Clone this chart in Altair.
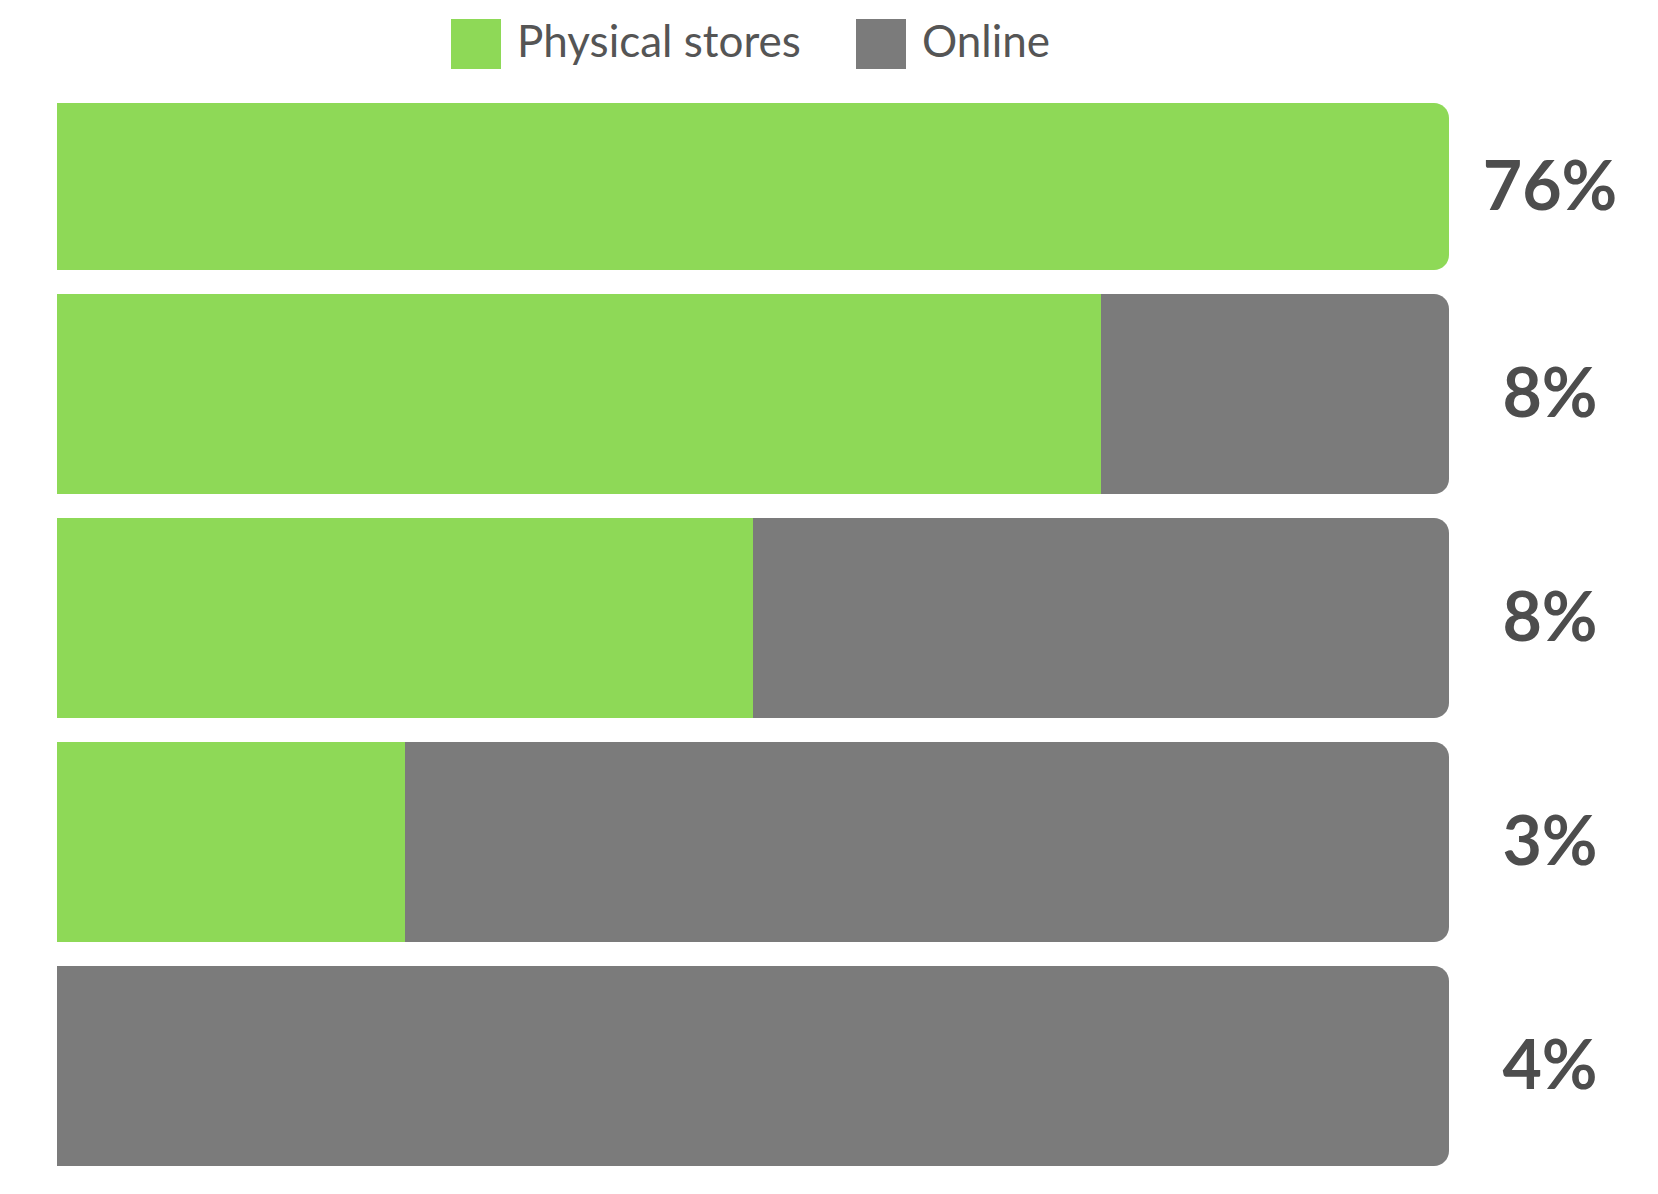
import altair as alt
import pandas as pd

rows = ["r1", "r2", "r3", "r4", "r5"]
physical_share = [1.0, 0.75, 0.5, 0.25, 0.0]
labels = ["76%", "8%", "8%", "3%", "4%"]
segments = ["Physical stores", "Online"]
colors = ["#8ed957", "#7b7b7b"]

recs = []
for r, p in zip(rows, physical_share):
    recs.append({"row": r, "segment": segments[0], "start": 0.0, "end": p})
    recs.append({"row": r, "segment": segments[1], "start": p, "end": 1.0})
df = pd.DataFrame(recs)
lab_df = pd.DataFrame({"row": rows, "label": labels})

yenc = alt.Y("row:N", sort=rows, axis=None,
             scale=alt.Scale(paddingInner=0.107, paddingOuter=0))
xscale = alt.Scale(domain=[0, 1], nice=False, zero=True)
color = alt.Color(
    "segment:N",
    scale=alt.Scale(domain=segments, range=colors),
    legend=alt.Legend(
        orient="none", legendX=394, legendY=-51, direction="horizontal",
        title=None, symbolType="square", symbolSize=2500, symbolStrokeWidth=0,
        symbolOpacity=1, labelFontSize=44, labelFont="Lato", labelColor="#555555",
        labelOffset=16, columnPadding=55, padding=0, labelLimit=600,
    ),
)

base = alt.Chart(df).encode(
    y=yenc,
    x=alt.X("start:Q", scale=xscale, axis=None),
    x2="end:Q",
    color=color,
)

green_plain = base.transform_filter(
    (alt.datum.segment == segments[0]) & (alt.datum.end > alt.datum.start) & (alt.datum.end < 1)
).mark_bar(cornerRadius=0)

green_full = base.transform_filter(
    (alt.datum.segment == segments[0]) & (alt.datum.end >= 1) & (alt.datum.start <= 0)
).mark_bar(cornerRadiusTopRight=15, cornerRadiusBottomRight=15,
           height=167, yOffset=16.5)

gray = base.transform_filter(
    (alt.datum.segment == segments[1]) & (alt.datum.end > alt.datum.start)
).mark_bar(cornerRadiusTopRight=15, cornerRadiusBottomRight=15)

text_base = alt.Chart(lab_df).encode(
    y=alt.Y("row:N", sort=rows, axis=None),
    x=alt.datum(1.0),
    text="label:N",
)
text_style = dict(font="Lato", fontWeight="bold", fontSize=68, color="#4d4d4d",
                  align="center", baseline="middle", dx=101)

text_first = text_base.transform_filter(alt.datum.row == rows[0]).mark_text(dy=20, **text_style)
text_rest = text_base.transform_filter(alt.datum.row != rows[0]).mark_text(dy=3, **text_style)

chart = alt.layer(green_plain, green_full, gray, text_first, text_rest).properties(
    width=1392, height=1096,
    background="white",
    autosize=alt.AutoSizeParams(type="none"),
    padding={"left": 49, "top": 62, "right": 200, "bottom": 30},
).configure_view(strokeWidth=0, stroke=None)

chart.save("out.html", embed_options={"renderer": "svg", "actions": False})
